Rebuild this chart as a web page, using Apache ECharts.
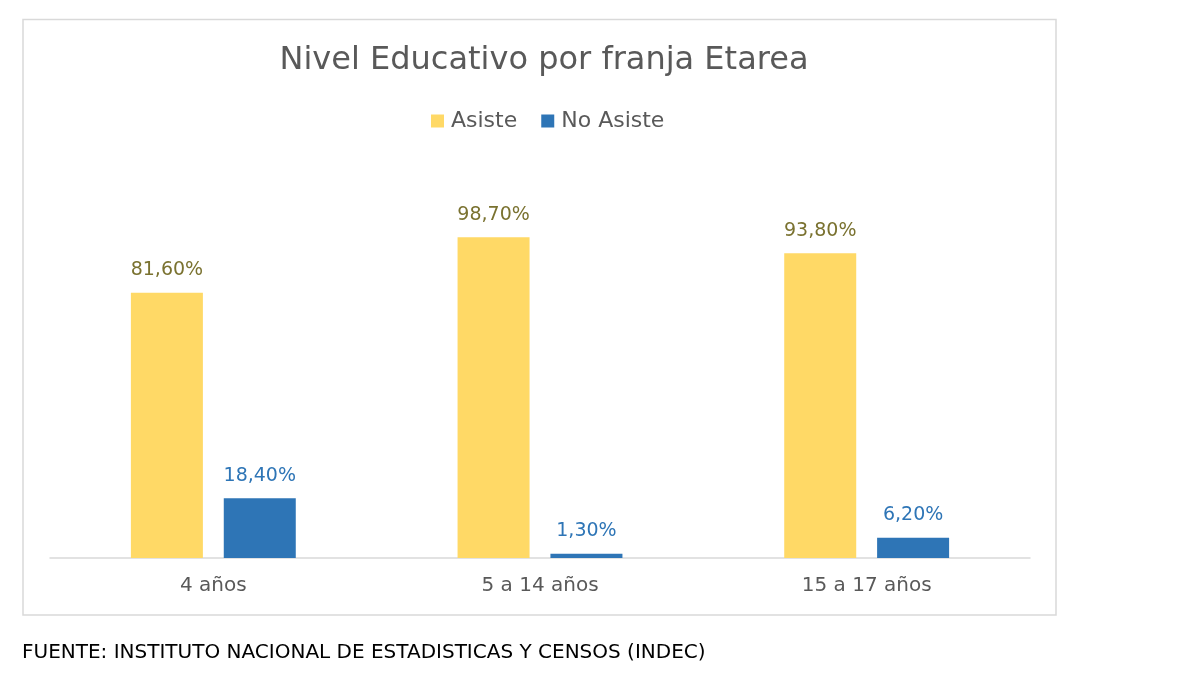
<!DOCTYPE html>
<html><head><meta charset="utf-8">
<script src="https://cdn.jsdelivr.net/npm/echarts@6/dist/echarts.min.js"></script>
<style>html,body{margin:0;padding:0;background:#fff}#c{width:1200px;height:675px}</style>
</head><body><div id="c"></div>
<script>
const categories = ['4 años', '5 a 14 años', '15 a 17 años'];
const asiste = [81.6, 98.7, 93.8];
const noAsiste = [18.4, 1.3, 6.2];
const seriesNames = ['Asiste', 'No Asiste'];
const titleText = 'Nivel Educativo por franja Etarea';
const sourceText = 'FUENTE: INSTITUTO NACIONAL DE ESTADISTICAS Y CENSOS (INDEC)';

const font = '"DejaVu Sans", sans-serif';
const fmt = p => p.value.toFixed(2).replace('.', ',') + '%';
const chart = echarts.init(document.getElementById('c'));
chart.setOption({
  animation: false,
  backgroundColor: '#fff',
  title: {
    text: titleText, left: 539, textAlign: 'center', top: 40,
    textStyle: { fontFamily: font, fontSize: 32, fontWeight: 'normal', color: '#595959' }
  },
  legend: {
    data: seriesNames, top: 105, left: 426, itemWidth: 13, itemHeight: 13, itemGap: 24,
    icon: 'rect',
    textStyle: { fontFamily: font, fontSize: 22, color: '#595959', padding: [0, 0, 0, 2] }
  },
  graphic: [
    { type: 'rect', shape: { x: 23, y: 19.5, width: 1033, height: 595.5 },
      style: { fill: 'none', stroke: '#d9d9d9', lineWidth: 1.5 }, z: -1 },
    { type: 'text', left: 22, top: 643,
      style: { text: sourceText, fontFamily: font, fontSize: 20, fill: '#000' } }
  ],
  grid: { left: 50, right: 170, top: 233, bottom: 117 },
  xAxis: {
    type: 'category', data: categories,
    axisLine: { lineStyle: { color: '#d9d9d9', width: 1.5 } },
    axisTick: { show: false },
    axisLabel: { fontFamily: font, fontSize: 20, color: '#595959', margin: 18 }
  },
  yAxis: { type: 'value', min: 0, max: 100, show: false, splitLine: { show: false } },
  series: [
    { name: seriesNames[0], type: 'bar', data: asiste, barWidth: 72, barGap: '29%',
      itemStyle: { color: '#FFD966' },
      label: { show: true, position: 'top', distance: 13, formatter: fmt,
        fontFamily: font, fontSize: 19, color: '#7a7230' } },
    { name: seriesNames[1], type: 'bar', data: noAsiste, barWidth: 72,
      itemStyle: { color: '#2E75B6' },
      label: { show: true, position: 'top', distance: 13, formatter: fmt,
        fontFamily: font, fontSize: 19, color: '#2E75B6' } }
  ]
});
</script></body></html>
